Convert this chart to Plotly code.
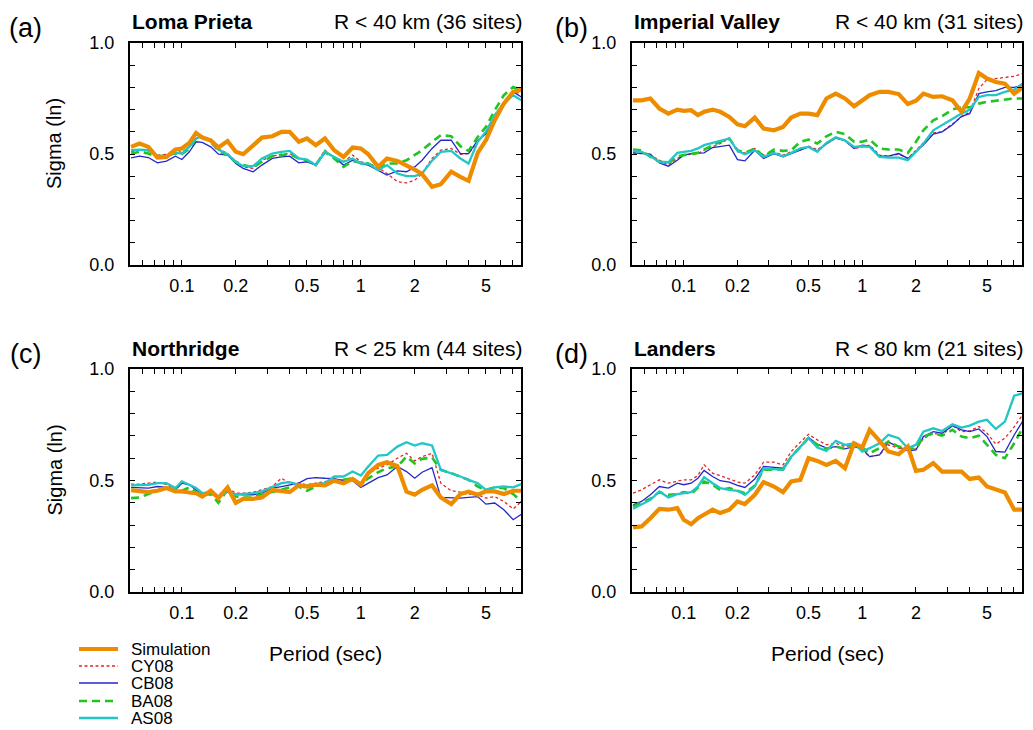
import plotly.graph_objects as go
from plotly.subplots import make_subplots

W, H = 1033, 730

# Spectral periods (s) shared by every curve
PERIOD = [0.052, 0.058, 0.065, 0.073, 0.082, 0.092, 0.10, 0.11, 0.12, 0.13,
          0.145, 0.16, 0.18, 0.20, 0.22, 0.25, 0.28, 0.32, 0.36, 0.40,
          0.45, 0.50, 0.56, 0.63, 0.71, 0.80, 0.90, 1.0, 1.1, 1.25,
          1.4, 1.6, 1.8, 2.0, 2.2, 2.5, 2.8, 3.2, 3.6, 4.0,
          4.5, 5.0, 5.6, 6.3, 7.1, 7.9]

# (a) Loma Prieta
LP_SIM = [0.532, 0.547, 0.532, 0.484, 0.487, 0.520, 0.525, 0.550, 0.595, 0.574,
          0.562, 0.529, 0.558, 0.510, 0.499, 0.540, 0.574, 0.580, 0.600, 0.600,
          0.555, 0.570, 0.540, 0.570, 0.517, 0.487, 0.529, 0.525, 0.499, 0.442,
          0.480, 0.469, 0.450, 0.430, 0.409, 0.352, 0.364, 0.420, 0.397, 0.379,
          0.505, 0.562, 0.652, 0.727, 0.780, 0.790]
LP_CY = [0.510, 0.517, 0.514, 0.495, 0.498, 0.514, 0.507, 0.532, 0.570, 0.577,
         0.555, 0.525, 0.502, 0.465, 0.442, 0.435, 0.472, 0.490, 0.499, 0.502,
         0.480, 0.472, 0.456, 0.517, 0.480, 0.465, 0.495, 0.465, 0.457, 0.439,
         0.412, 0.375, 0.370, 0.382, 0.412, 0.480, 0.517, 0.525, 0.499, 0.502,
         0.555, 0.600, 0.675, 0.735, 0.780, 0.772]
LP_CB = [0.483, 0.490, 0.484, 0.460, 0.468, 0.490, 0.475, 0.510, 0.555, 0.552,
         0.532, 0.499, 0.495, 0.457, 0.435, 0.420, 0.450, 0.480, 0.487, 0.490,
         0.460, 0.465, 0.450, 0.505, 0.487, 0.450, 0.472, 0.457, 0.450, 0.427,
         0.405, 0.424, 0.420, 0.442, 0.472, 0.525, 0.562, 0.562, 0.502, 0.502,
         0.562, 0.590, 0.660, 0.735, 0.780, 0.757]
LP_BA = [0.502, 0.510, 0.502, 0.487, 0.495, 0.502, 0.499, 0.525, 0.570, 0.574,
         0.555, 0.514, 0.495, 0.465, 0.450, 0.440, 0.465, 0.490, 0.495, 0.499,
         0.480, 0.472, 0.450, 0.510, 0.480, 0.442, 0.469, 0.460, 0.457, 0.435,
         0.457, 0.457, 0.472, 0.495, 0.517, 0.555, 0.585, 0.580, 0.535, 0.514,
         0.577, 0.622, 0.697, 0.765, 0.802, 0.787]
LP_AS = [0.517, 0.520, 0.517, 0.490, 0.490, 0.505, 0.502, 0.532, 0.570, 0.580,
         0.555, 0.520, 0.499, 0.465, 0.445, 0.445, 0.480, 0.502, 0.510, 0.514,
         0.480, 0.475, 0.450, 0.510, 0.487, 0.465, 0.480, 0.457, 0.457, 0.427,
         0.450, 0.412, 0.400, 0.400, 0.412, 0.470, 0.510, 0.514, 0.480, 0.457,
         0.555, 0.600, 0.675, 0.727, 0.765, 0.742]

# (b) Imperial Valley
IV_SIM = [0.742, 0.742, 0.750, 0.705, 0.682, 0.700, 0.694, 0.697, 0.675, 0.690,
          0.700, 0.690, 0.667, 0.634, 0.625, 0.664, 0.615, 0.607, 0.622, 0.664,
          0.682, 0.682, 0.675, 0.750, 0.772, 0.750, 0.715, 0.742, 0.765, 0.780,
          0.780, 0.770, 0.725, 0.740, 0.772, 0.757, 0.760, 0.742, 0.690, 0.750,
          0.865, 0.840, 0.824, 0.817, 0.772, 0.800]
IV_CY = [0.505, 0.502, 0.495, 0.472, 0.450, 0.480, 0.495, 0.499, 0.502, 0.517,
         0.532, 0.547, 0.570, 0.510, 0.505, 0.525, 0.495, 0.510, 0.495, 0.510,
         0.517, 0.535, 0.520, 0.545, 0.572, 0.562, 0.525, 0.532, 0.540, 0.495,
         0.490, 0.499, 0.480, 0.517, 0.550, 0.595, 0.600, 0.635, 0.667, 0.690,
         0.795, 0.835, 0.840, 0.847, 0.850, 0.862]
IV_CB = [0.505, 0.502, 0.499, 0.460, 0.445, 0.472, 0.495, 0.502, 0.505, 0.505,
         0.529, 0.535, 0.540, 0.475, 0.469, 0.517, 0.480, 0.502, 0.487, 0.502,
         0.517, 0.532, 0.514, 0.545, 0.572, 0.560, 0.525, 0.540, 0.535, 0.490,
         0.490, 0.502, 0.480, 0.510, 0.540, 0.590, 0.600, 0.632, 0.670, 0.682,
         0.772, 0.780, 0.785, 0.800, 0.800, 0.810]
IV_BA = [0.520, 0.517, 0.487, 0.465, 0.457, 0.490, 0.495, 0.499, 0.505, 0.520,
         0.540, 0.555, 0.570, 0.517, 0.505, 0.525, 0.490, 0.520, 0.514, 0.517,
         0.555, 0.565, 0.547, 0.580, 0.600, 0.590, 0.555, 0.555, 0.565, 0.525,
         0.520, 0.520, 0.505, 0.555, 0.607, 0.652, 0.670, 0.700, 0.712, 0.710,
         0.727, 0.735, 0.740, 0.745, 0.750, 0.750]
IV_AS = [0.514, 0.510, 0.490, 0.465, 0.463, 0.505, 0.510, 0.514, 0.525, 0.540,
         0.550, 0.560, 0.570, 0.514, 0.499, 0.517, 0.487, 0.505, 0.490, 0.505,
         0.525, 0.532, 0.510, 0.550, 0.575, 0.562, 0.532, 0.535, 0.532, 0.487,
         0.484, 0.484, 0.472, 0.510, 0.547, 0.607, 0.630, 0.660, 0.682, 0.700,
         0.757, 0.765, 0.765, 0.780, 0.790, 0.817]

# (c) Northridge
NR_SIM = [0.457, 0.452, 0.448, 0.454, 0.466, 0.451, 0.451, 0.446, 0.443, 0.428,
          0.454, 0.421, 0.469, 0.400, 0.418, 0.418, 0.424, 0.458, 0.454, 0.448,
          0.478, 0.473, 0.481, 0.478, 0.499, 0.488, 0.507, 0.481, 0.533, 0.570,
          0.582, 0.564, 0.450, 0.436, 0.458, 0.478, 0.424, 0.394, 0.439, 0.450,
          0.436, 0.451, 0.451, 0.439, 0.454, 0.454]
NR_CY = [0.484, 0.484, 0.488, 0.493, 0.481, 0.458, 0.491, 0.481, 0.466, 0.436,
         0.448, 0.433, 0.469, 0.443, 0.443, 0.448, 0.458, 0.473, 0.510, 0.488,
         0.488, 0.481, 0.488, 0.496, 0.503, 0.503, 0.503, 0.481, 0.533, 0.555,
         0.570, 0.600, 0.622, 0.588, 0.607, 0.622, 0.488, 0.454, 0.448, 0.439,
         0.436, 0.421, 0.428, 0.406, 0.373, 0.406]
NR_CB = [0.469, 0.466, 0.466, 0.473, 0.469, 0.458, 0.488, 0.481, 0.458, 0.436,
         0.439, 0.428, 0.448, 0.439, 0.436, 0.436, 0.443, 0.466, 0.473, 0.481,
         0.488, 0.508, 0.513, 0.510, 0.508, 0.499, 0.499, 0.469, 0.488, 0.513,
         0.525, 0.563, 0.540, 0.510, 0.537, 0.558, 0.424, 0.421, 0.421, 0.424,
         0.428, 0.394, 0.399, 0.369, 0.324, 0.349]
NR_BA = [0.421, 0.424, 0.439, 0.454, 0.463, 0.463, 0.454, 0.469, 0.448, 0.436,
         0.439, 0.400, 0.458, 0.428, 0.424, 0.424, 0.439, 0.448, 0.458, 0.469,
         0.473, 0.454, 0.473, 0.484, 0.499, 0.503, 0.510, 0.484, 0.510, 0.537,
         0.555, 0.563, 0.607, 0.577, 0.597, 0.603, 0.548, 0.533, 0.518, 0.503,
         0.473, 0.458, 0.469, 0.466, 0.439, 0.406]
NR_AS = [0.478, 0.478, 0.481, 0.488, 0.488, 0.466, 0.496, 0.481, 0.466, 0.443,
         0.448, 0.424, 0.454, 0.436, 0.439, 0.443, 0.451, 0.469, 0.488, 0.493,
         0.481, 0.478, 0.484, 0.488, 0.518, 0.518, 0.540, 0.522, 0.563, 0.612,
         0.615, 0.652, 0.672, 0.657, 0.667, 0.657, 0.548, 0.533, 0.518, 0.503,
         0.488, 0.458, 0.469, 0.473, 0.469, 0.484]

# (d) Landers
LA_SIM = [0.290, 0.294, 0.331, 0.373, 0.369, 0.376, 0.324, 0.304, 0.331, 0.349,
          0.369, 0.354, 0.369, 0.406, 0.394, 0.436, 0.493, 0.473, 0.448, 0.496,
          0.503, 0.600, 0.588, 0.570, 0.588, 0.555, 0.667, 0.648, 0.727, 0.678,
          0.630, 0.618, 0.652, 0.543, 0.548, 0.578, 0.540, 0.540, 0.540, 0.507,
          0.513, 0.473, 0.458, 0.446, 0.369, 0.369]
LA_CY = [0.443, 0.458, 0.481, 0.503, 0.488, 0.496, 0.503, 0.503, 0.522, 0.570,
         0.533, 0.522, 0.507, 0.493, 0.488, 0.525, 0.582, 0.582, 0.570, 0.630,
         0.672, 0.707, 0.682, 0.660, 0.667, 0.652, 0.660, 0.637, 0.607, 0.615,
         0.660, 0.645, 0.637, 0.642, 0.687, 0.712, 0.704, 0.746, 0.719, 0.722,
         0.742, 0.712, 0.663, 0.690, 0.740, 0.794]
LA_CB = [0.391, 0.406, 0.436, 0.473, 0.466, 0.488, 0.481, 0.488, 0.510, 0.545,
         0.518, 0.499, 0.493, 0.478, 0.469, 0.507, 0.563, 0.558, 0.555, 0.607,
         0.652, 0.693, 0.663, 0.645, 0.652, 0.642, 0.652, 0.642, 0.607, 0.615,
         0.672, 0.652, 0.633, 0.637, 0.697, 0.719, 0.712, 0.746, 0.727, 0.719,
         0.731, 0.697, 0.630, 0.627, 0.704, 0.764]
LA_BA = [0.384, 0.399, 0.418, 0.448, 0.436, 0.439, 0.448, 0.439, 0.466, 0.495,
         0.481, 0.458, 0.466, 0.454, 0.443, 0.478, 0.548, 0.548, 0.548, 0.607,
         0.652, 0.690, 0.660, 0.642, 0.652, 0.642, 0.660, 0.648, 0.622, 0.645,
         0.675, 0.652, 0.645, 0.642, 0.697, 0.712, 0.701, 0.727, 0.697, 0.690,
         0.701, 0.660, 0.615, 0.600, 0.667, 0.734]
LA_AS = [0.373, 0.391, 0.413, 0.451, 0.424, 0.439, 0.443, 0.448, 0.473, 0.515,
         0.488, 0.466, 0.458, 0.454, 0.436, 0.473, 0.555, 0.552, 0.548, 0.607,
         0.652, 0.690, 0.648, 0.633, 0.678, 0.660, 0.667, 0.630, 0.645, 0.667,
         0.705, 0.690, 0.645, 0.660, 0.719, 0.734, 0.722, 0.752, 0.737, 0.746,
         0.764, 0.772, 0.731, 0.764, 0.880, 0.891]

PANELS = [
    ("(a)", "Loma Prieta", "R < 40 km (36 sites)",
     dict(Simulation=LP_SIM, CY08=LP_CY, CB08=LP_CB, BA08=LP_BA, AS08=LP_AS)),
    ("(b)", "Imperial Valley", "R < 40 km (31 sites)",
     dict(Simulation=IV_SIM, CY08=IV_CY, CB08=IV_CB, BA08=IV_BA, AS08=IV_AS)),
    ("(c)", "Northridge", "R < 25 km (44 sites)",
     dict(Simulation=NR_SIM, CY08=NR_CY, CB08=NR_CB, BA08=NR_BA, AS08=NR_AS)),
    ("(d)", "Landers", "R < 80 km (21 sites)",
     dict(Simulation=LA_SIM, CY08=LA_CY, CB08=LA_CB, BA08=LA_BA, AS08=LA_AS)),
]

X_TICKS = [0.06, 0.07, 0.08, 0.09, 0.1, 0.2, 0.3, 0.4, 0.5, 0.6, 0.7, 0.8, 0.9,
           1, 2, 3, 4, 5, 6, 7]
X_LABELED = {0.1: "0.1", 0.2: "0.2", 0.5: "0.5", 1: "1", 2: "2", 5: "5"}
Y_TICKS = [0.0, 0.1, 0.2, 0.3, 0.4, 0.5, 0.6, 0.7, 0.8, 0.9, 1.0]
Y_LABELED = {0.0: "0.0", 0.5: "0.5", 1.0: "1.0"}

# line style per model; drawing order puts the simulation on top
STYLE = {
    "CY08": dict(color="#E0282A", width=1.3, dash="3px,2.5px"),
    "CB08": dict(color="#2626C8", width=1.3, dash="solid"),
    "BA08": dict(color="#22C422", width=2.6, dash="8px,5px"),
    "AS08": dict(color="#22C6C6", width=2.3, dash="solid"),
    "Simulation": dict(color="#EE8C00", width=4.2, dash="solid"),
}
ORDER = ["CY08", "CB08", "BA08", "AS08", "Simulation"]

FONT = "Liberation Sans, Arial, Helvetica, sans-serif"

# pixel boxes of the four frames: (left, right, top, bottom)
BOXES = [(130, 521, 43, 265), (632, 1022, 43, 265),
         (130, 521, 369, 592), (632, 1022, 369, 592)]
# centre of each panel letter
LETTER_X = [25, 571, 25, 571]


def px(x):
    return x / W


def py(y):
    return 1 - y / H


fig = make_subplots(rows=2, cols=2)

for i, (tag, event, dist, series) in enumerate(PANELS):
    r, c = i // 2 + 1, i % 2 + 1
    for name in ORDER:
        fig.add_trace(go.Scatter(x=PERIOD, y=series[name], mode="lines",
                                 line=STYLE[name], name=name, showlegend=False),
                      row=r, col=c)

    l, rr, t, b = BOXES[i]
    sfx = "" if i == 0 else str(i + 1)
    fig.layout["xaxis" + sfx].update(
        type="log", range=[-1.29, 0.895], domain=[px(l), px(rr)],
        tickvals=X_TICKS, ticktext=[X_LABELED.get(v, "") for v in X_TICKS],
        ticks="inside", ticklen=5, tickwidth=1.3, tickcolor="black",
        showline=True, linewidth=2, linecolor="black", mirror="allticks",
        showgrid=False, zeroline=False, ticklabelstandoff=3, automargin=False,
        tickfont=dict(family=FONT, size=18, color="black"))
    fig.layout["yaxis" + sfx].update(
        range=[0, 1], domain=[py(b), py(t)],
        tickvals=Y_TICKS, ticktext=[Y_LABELED.get(v, "") for v in Y_TICKS],
        ticks="inside", ticklen=5, tickwidth=1.3, tickcolor="black",
        showline=True, linewidth=2, linecolor="black", mirror="allticks",
        showgrid=False, zeroline=False, ticklabelstandoff=10, automargin=False,
        tickfont=dict(family=FONT, size=18, color="black"))

    # panel letter, event name and distance caption
    fig.add_annotation(x=px(LETTER_X[i]), y=py(t - 15), text=tag, showarrow=False,
                       xref="paper", yref="paper", xanchor="center", yanchor="middle",
                       font=dict(family=FONT, size=27, color="black"))
    fig.add_annotation(x=px(l), y=py(t - 21), text="<b>%s</b>" % event, showarrow=False,
                       xref="paper", yref="paper", xanchor="left", yanchor="middle",
                       font=dict(family=FONT, size=21, color="black"))
    fig.add_annotation(x=px(rr + 3), y=py(t - 21), text=dist, showarrow=False,
                       xref="paper", yref="paper", xanchor="right", yanchor="middle",
                       font=dict(family=FONT, size=21, color="black"))

    if c == 1:
        fig.add_annotation(x=px(54), y=py((t + b) / 2 - 10), text="Sigma (ln)",
                           textangle=-90, showarrow=False, xref="paper", yref="paper",
                           xanchor="center", yanchor="middle",
                           font=dict(family=FONT, size=20, color="black"))
    if r == 2:
        fig.add_annotation(x=px((l + rr) / 2), y=py(653), text="Period (sec)",
                           showarrow=False, xref="paper", yref="paper",
                           xanchor="center", yanchor="middle",
                           font=dict(family=FONT, size=21, color="black"))

# legend key in the lower-left corner
LEGEND_ROWS = [649, 666, 683, 701, 718]
for name, yrow in zip(["Simulation", "CY08", "CB08", "BA08", "AS08"], LEGEND_ROWS):
    st = STYLE[name]
    fig.add_shape(type="line", xref="paper", yref="paper",
                  x0=px(79), x1=px(118), y0=py(yrow), y1=py(yrow),
                  line=dict(color=st["color"], width=st["width"], dash=st["dash"]))
    fig.add_annotation(x=px(129), y=py(yrow), text=name, showarrow=False,
                       xref="paper", yref="paper", xanchor="left", yanchor="middle",
                       font=dict(family=FONT, size=17, color="black"))

fig.update_layout(width=W, height=H,
                  margin=dict(l=0, r=0, t=0, b=0, pad=0, autoexpand=False),
                  paper_bgcolor="white", plot_bgcolor="white", showlegend=False,
                  font=dict(family=FONT, color="black"))

fig.write_html("out.html")
